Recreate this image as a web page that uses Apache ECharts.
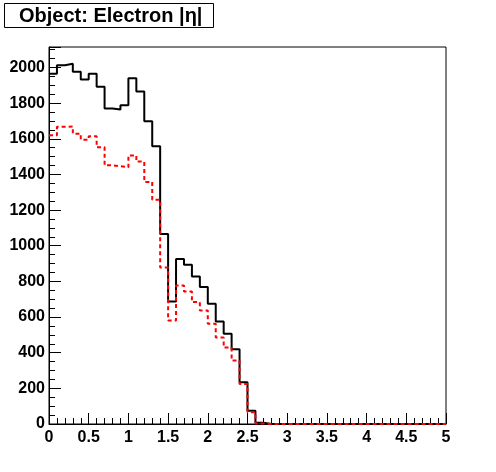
<!DOCTYPE html>
<html>
<head>
<meta charset="utf-8">
<script src="https://cdn.jsdelivr.net/npm/echarts@6/dist/echarts.min.js"></script>
<style>
html,body{margin:0;padding:0;background:#fff;}
#main{width:496px;height:472px;}
</style>
</head>
<body>
<div id="main"></div>
<script>
// Histogram: |eta| of electrons, 50 bins of width 0.1 from 0 to 5
const titleText = 'Object: Electron |\u03b7|';
const binLow = 0;
const binWidth = 0.1;
const xTickLabels = ['0','0.5','1','1.5','2','2.5','3','3.5','4','4.5','5'];
const yTickLabels = ['0','200','400','600','800','1000','1200','1400','1600','1800','2000'];
// black solid histogram
const electronAll = [1965, 2013, 2021, 1976, 1933, 1965, 1892, 1770, 1764, 1788,
                     1940, 1865, 1698, 1558, 1066, 687, 925, 893, 828, 768,
                     674, 575, 506, 420, 234, 75, 7, 0, 0, 0,
                     0, 0, 0, 0, 0, 0, 0, 0, 0, 0,
                     0, 0, 0, 0, 0, 0, 0, 0, 0, 0];
// red dashed histogram
const electronSel = [1620, 1667, 1669, 1629, 1595, 1614, 1552, 1451, 1446, 1440,
                     1507, 1472, 1358, 1258, 878, 580, 777, 743, 684, 637,
                     562, 485, 429, 356, 225, 66, 3, 0, 0, 0,
                     0, 0, 0, 0, 0, 0, 0, 0, 0, 0,
                     0, 0, 0, 0, 0, 0, 0, 0, 0, 0];

function stepData(vals) {
  const d = [];
  for (let i = 0; i < vals.length; i++) {
    d.push([+(binLow + i * binWidth).toFixed(4), vals[i]]);
  }
  d.push([+(binLow + vals.length * binWidth).toFixed(4), vals[vals.length - 1]]);
  return d;
}

const chart = echarts.init(document.getElementById('main'), null, {renderer: 'canvas'});
const labelFont = {color: '#000', fontFamily: 'Liberation Sans, Arial, sans-serif', fontWeight: 'bold', fontSize: 16};
chart.setOption({
  animation: false,
  backgroundColor: '#fff',
  title: {
    text: titleText,
    left: 4, top: 3,
    padding: [3, 11, 2, 15],
    borderColor: '#000', borderWidth: 1,
    backgroundColor: '#fff',
    textStyle: {color: '#000', fontFamily: 'Liberation Sans, Arial, sans-serif', fontWeight: 'bold', fontSize: 20, lineHeight: 20}
  },
  grid: {left: 49, right: 50, top: 47, bottom: 48, show: true, borderColor: '#000', borderWidth: 1, backgroundColor: 'transparent'},
  xAxis: {
    type: 'value', min: 0, max: 5, interval: 0.5,
    axisLine: {show: true, lineStyle: {color: '#000', width: 1}},
    axisTick: {show: true, inside: true, length: 11, lineStyle: {color: '#000'}},
    minorTick: {show: true, splitNumber: 5, length: 6, lineStyle: {color: '#000'}},
    splitLine: {show: false},
    axisLabel: Object.assign({margin: 6, formatter: function(v){ const i = Math.round(v / 0.5); return xTickLabels[i] !== undefined ? xTickLabels[i] : ''; }}, labelFont)
  },
  yAxis: {
    type: 'value', min: 0, max: 2115, interval: 200,
    axisLine: {show: true, lineStyle: {color: '#000', width: 1}},
    axisTick: {show: true, inside: true, length: 12, lineStyle: {color: '#000'}},
    minorTick: {show: true, splitNumber: 4, length: 6, lineStyle: {color: '#000'}},
    splitLine: {show: false},
    axisLabel: Object.assign({margin: 4, showMaxLabel: false, formatter: function(v){ if (v % 200 !== 0) return ''; const i = v / 200; return yTickLabels[i] !== undefined ? yTickLabels[i] : ''; }}, labelFont)
  },
  series: [
    {type: 'line', step: 'end', data: stepData(electronAll), symbol: 'none', lineStyle: {color: '#000', width: 2}, z: 2},
    {type: 'line', step: 'end', data: stepData(electronSel), symbol: 'none', lineStyle: {color: '#ff0000', width: 2, type: [4, 3]}, z: 3}
  ]
});
</script>
</body>
</html>
